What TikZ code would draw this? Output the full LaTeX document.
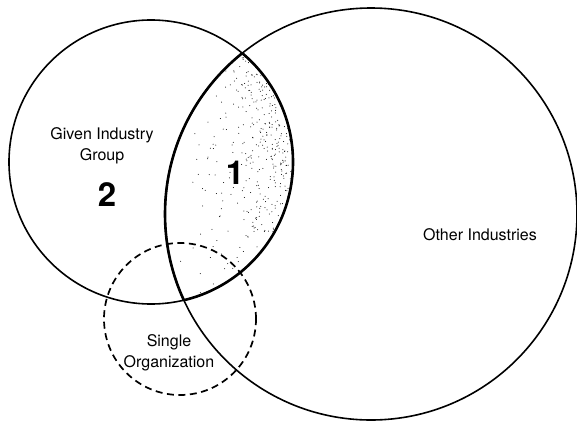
\documentclass[tikz,border=0pt]{standalone}
\usepackage{fontspec}
\setmainfont{TeX Gyre Heros}
\begin{document}
\begin{tikzpicture}[
  x=1pt, y=-1pt,
  ring/.style={line width=1.6pt},
  lens/.style={line width=2.6pt},
  orgring/.style={line width=1.7pt, dash pattern=on 7pt off 4.5pt},
  lbl/.style={font=\fontsize{16}{21}\selectfont, align=center, inner sep=0pt},
  num/.style={font=\fontsize{33}{33}\selectfont\bfseries, inner sep=0pt}
]
\useasboundingbox (0,0) rectangle (577,423);
\coordinate (cgroup) at (151,162);
\coordinate (cother) at (371,214);
\coordinate (corg) at (180,319);

% stippled overlap (area 1), denser towards the right
\begin{scope}
  \clip (cgroup) circle[radius=142pt];
  \clip (cother) circle[radius=206pt];
  \pgfmathsetseed{11}
  \foreach \k in {1,...,650}{
    \pgfmathsetmacro\px{165+131*(rnd)^(0.3)}
    \pgfmathsetmacro\py{53+248*(rnd)^(1.3)}
    \fill (\px,\py) circle[radius=0.5pt];
  }
\end{scope}

% circles
\draw[ring] (cgroup) circle[radius=142pt];
\draw[ring] (cother) circle[radius=206pt];
\begin{scope}
  \clip (cother) circle[radius=206pt];
  \draw[lens] (cgroup) circle[radius=142pt];
\end{scope}
\begin{scope}
  \clip (cgroup) circle[radius=142pt];
  \draw[lens] (cother) circle[radius=206pt];
\end{scope}
\draw[orgring] (corg) circle[radius=76pt];

% labels
\node[lbl] (group) at (102,146) {Given Industry\\Group};
\node[num] (two) at (107,195) {2};
\node[num] (one) at (235,173) {1};
\node[lbl] (org) at (169,353) {Single\\Organization};
\node[lbl] (other) at (480,235) {Other Industries};
\end{tikzpicture}
\end{document}
